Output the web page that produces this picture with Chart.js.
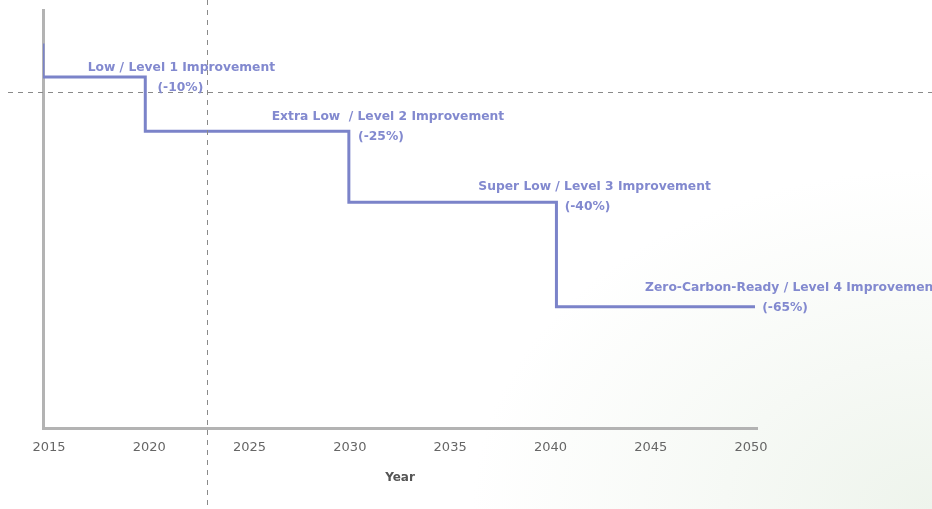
<!DOCTYPE html>
<html>
<head>
<meta charset="utf-8">
<script src="https://cdn.jsdelivr.net/npm/chart.js@4.4.0/dist/chart.umd.min.js"></script>
<style>
  html, body { margin: 0; padding: 0; }
  body {
    width: 932px; height: 509px; overflow: hidden;
    background: radial-gradient(ellipse 460px 340px at 100% 100%, #eef4ec 0%, #f6f9f5 45%, #ffffff 100%);
  }
  #wrap { position: relative; width: 932px; height: 509px; }
</style>
</head>
<body>
<div id="wrap"><canvas id="myChart" width="932" height="509"></canvas></div>
<script>
// Step line: year where each level starts, and the level reached there
let stepYears = [2014.7, 2014.7, 2019.8, 2029.95, 2040.3, 2050.2];
let stepLevels = [92, 84, 71, 54, 29, 29];

// x axis tick labels
let tickYears = [2015, 2020, 2025, 2030, 2035, 2040, 2045, 2050];

// annotations: two lines of text, anchor year and level (data units)
let noteTitles = [
  "Low / Level 1 Improvement",
  "Extra Low  / Level 2 Improvement",
  "Super Low / Level 3 Improvement",
  "Zero-Carbon-Ready / Level 4 Improvement"
];
let notePercents = ["(-10%)", "(-25%)", "(-40%)", "(-65%)"];
let noteYears = [2021.6, 2031.9, 2042.2, 2052.05];
let percentYears = [2021.55, 2031.55, 2041.85, 2051.7];
let noteLevels = [86.2, 74.5, 57.6, 33.6];

// reference (dashed) lines
let refYear = 2022.9;
let refLevel = 80.3;

let lineColor = "#7b83c9";
let noteColor = "#8289cf";

let points = stepYears.map((x, i) => ({ x: x, y: stepLevels[i] }));

// dashed reference lines across the whole canvas
const refLines = {
  id: 'refLines',
  afterDatasetsDraw(chart) {
    let c = chart.ctx;
    let px = chart.scales.x.getPixelForValue(refYear);
    let py = chart.scales.y.getPixelForValue(refLevel);
    c.save();
    c.strokeStyle = "#8a8a8a";
    c.lineWidth = 1;
    c.setLineDash([5, 5]);
    c.beginPath();
    c.moveTo(8, Math.round(py) + 0.5);
    c.lineTo(chart.width, Math.round(py) + 0.5);
    c.moveTo(Math.round(px) + 0.5, 0);
    c.lineTo(Math.round(px) + 0.5, chart.height);
    c.stroke();
    c.restore();
  }
};

// text labels for each level
const notes = {
  id: 'notes',
  afterDatasetsDraw(chart) {
    let c = chart.ctx;
    let xs = chart.scales.x, ys = chart.scales.y;
    c.save();
    c.fillStyle = noteColor;
    c.font = "bold 12.3px 'DejaVu Sans'";
    c.textAlign = "center";
    c.textBaseline = "middle";
    for (let i = 0; i < noteTitles.length; i++) {
      let y = ys.getPixelForValue(noteLevels[i]);
      c.fillText(noteTitles[i], xs.getPixelForValue(noteYears[i]), y);
      c.fillText(notePercents[i], xs.getPixelForValue(percentYears[i]), y + 20);
    }
    c.restore();
  }
};

let ctx = document.getElementById('myChart').getContext('2d');
let myChart = new Chart(ctx, {
  type: 'line',
  data: {
    datasets: [{
      data: points,
      stepped: 'before',
      borderColor: lineColor,
      borderWidth: 3,
      pointRadius: 0,
      fill: false
    }]
  },
  options: {
    responsive: false,
    animation: false,
    layout: { padding: { left: 43, right: 175, top: 10, bottom: 20 } },
    plugins: { legend: { display: false }, tooltip: { enabled: false } },
    scales: {
      x: {
        type: 'linear',
        min: 2014.7,
        max: 2050.3,
        afterBuildTicks: (scale) => { scale.ticks = tickYears.map(v => ({ value: v })); },
        afterFit: (scale) => { scale.height = 61; },
        grid: { display: false, drawTicks: false },
        border: { display: true, color: "#b3b3b3", width: 3 },
        ticks: {
          padding: 12,
          color: "#666",
          font: { family: "DejaVu Sans", size: 13 },
          callback: (v) => String(v)
        },
        title: {
          display: true,
          text: "Year",
          color: "#555",
          padding: { top: 0 },
          font: { family: "DejaVu Sans", size: 12, weight: 'bold' }
        }
      },
      y: {
        min: 0,
        max: 100,
        afterFit: (scale) => { scale.width = 0; },
        grid: { display: false, drawTicks: false },
        border: { display: true, color: "#b3b3b3", width: 3 },
        ticks: { display: false }
      }
    }
  },
  plugins: [refLines, notes]
});
</script>
</body>
</html>
